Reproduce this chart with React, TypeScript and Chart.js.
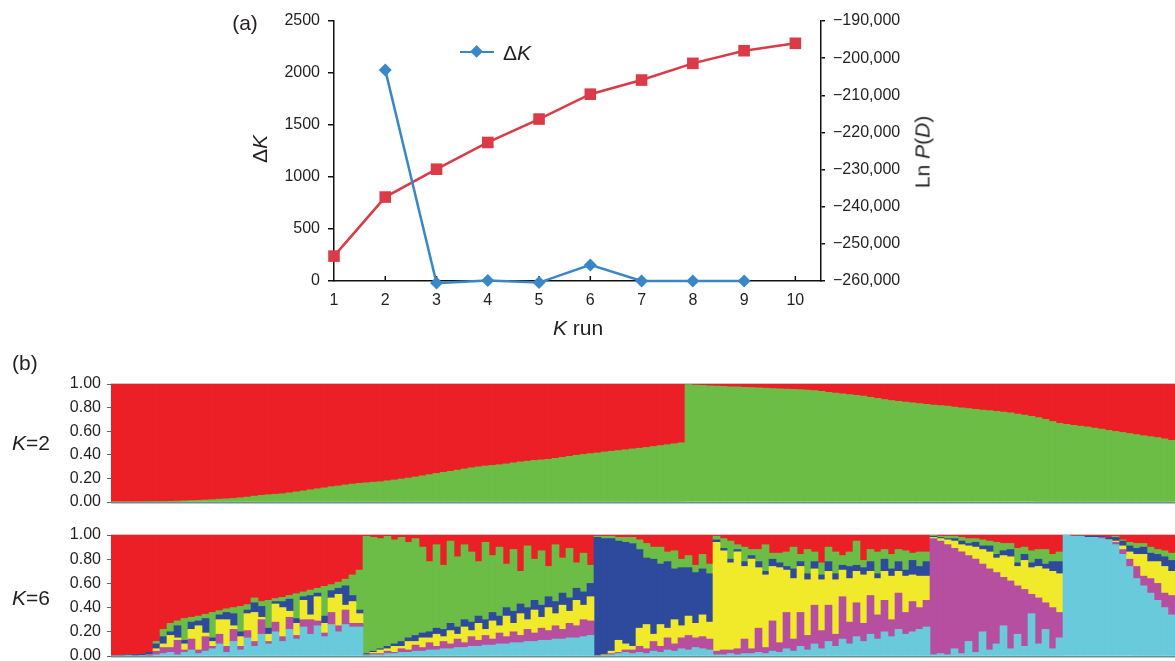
import React, { useEffect, useRef } from 'react';
import { Chart, registerables } from 'chart.js';

Chart.register(...registerables);

// ---------- Panel (a) data ----------
const kRun = [1, 2, 3, 4, 5, 6, 7, 8, 9, 10];
const deltaK = [null, 2030, -20, 5, -15, 155, 0, 0, 0, null];
const lnPD = [-253300, -237400, -229900, -222700, -216400, -209700, -205900, -201400, -198000, -196000];

// ---------- Panel (b) K=2 data (green share per individual; red is the rest) ----------
const k2Green = [
  0, 0, 0, 0, 0, 0.002, 0.004, 0.005, 0.006, 0.008, 0.01, 0.012, 0.014, 0.017, 0.02, 0.024, 0.027, 0.03,
  0.036, 0.042, 0.05, 0.056, 0.062, 0.066, 0.07, 0.078, 0.086, 0.094, 0.103, 0.112, 0.12, 0.13, 0.136,
  0.145, 0.152, 0.158, 0.163, 0.168, 0.172, 0.18, 0.187, 0.195, 0.203, 0.212, 0.222, 0.232, 0.242, 0.251,
  0.26, 0.27, 0.28, 0.29, 0.298, 0.305, 0.31, 0.316, 0.323, 0.332, 0.34, 0.346, 0.352, 0.357, 0.362, 0.37,
  0.378, 0.387, 0.396, 0.403, 0.41, 0.416, 0.424, 0.43, 0.436, 0.443, 0.45, 0.456, 0.462, 0.47, 0.478,
  0.486, 0.494, 0.502,
  0.995, 0.99, 0.988, 0.985, 0.982, 0.98, 0.977, 0.975, 0.972, 0.97, 0.967, 0.965, 0.962, 0.96, 0.957,
  0.955, 0.952, 0.948, 0.944, 0.938, 0.93, 0.924, 0.917, 0.91, 0.904, 0.897, 0.888, 0.878, 0.868, 0.86,
  0.853, 0.846, 0.84, 0.834, 0.828, 0.822, 0.817, 0.812, 0.805, 0.798, 0.792, 0.786, 0.78, 0.774, 0.768,
  0.762, 0.755, 0.746, 0.736, 0.726, 0.715, 0.7, 0.682, 0.666, 0.658, 0.65, 0.643, 0.636, 0.627, 0.618,
  0.607, 0.598, 0.589, 0.58, 0.571, 0.562, 0.554, 0.546, 0.535, 0.522,
];

// ---------- Panel (b) K=6 data (red is the rest of each individual) ----------
const k6Cyan = [
  0, 0, 0.002, 0, 0.003, 0, 0.01, 0.02, 0.03, 0.01, 0.03, 0.05, 0.02, 0.04, 0.06, 0.1, 0.03, 0.12, 0.05, 0.15,
  0.08, 0.18, 0.1, 0.2, 0.12, 0.22, 0.14, 0.24, 0.18, 0.25, 0.16, 0.26, 0.2, 0.26, 0.24, 0.24,
  0.005, 0.01, 0.01, 0.02, 0.02, 0.03, 0.03, 0.04, 0.04, 0.05, 0.05, 0.06, 0.06, 0.07, 0.07, 0.08, 0.08,
  0.09, 0.09, 0.1, 0.1, 0.11, 0.11, 0.12, 0.12, 0.13, 0.13, 0.14, 0.14, 0.15, 0.15, 0.16, 0.17,
  0, 0, 0.01, 0.02, 0.03, 0.02, 0.03, 0.02, 0.04, 0.03, 0.05, 0.04, 0.06, 0.05, 0.07, 0.06, 0.05,
  0.01, 0.01, 0.02, 0.01, 0.02, 0.02, 0.03, 0.02, 0.04, 0.03, 0.06, 0.04, 0.08, 0.05, 0.1, 0.06, 0.12, 0.08,
  0.14, 0.1, 0.16, 0.12, 0.18, 0.14, 0.2, 0.16, 0.22, 0.18, 0.2, 0.22, 0.24,
  0.01, 0.02, 0.01, 0.06, 0.02, 0.12, 0.03, 0.2, 0.05, 0.1, 0.25, 0.06, 0.18, 0.08, 0.35, 0.1, 0.22, 0.06, 0.15,
  1, 0.99, 0.99, 0.98, 0.98, 0.97, 0.96, 0.92, 0.84, 0.74, 0.64, 0.58, 0.52, 0.46, 0.4, 0.34,
];
const k6Magenta = [
  0, 0.002, 0, 0.002, 0, 0.01, 0.03, 0.05, 0.04, 0.12, 0.02, 0.09, 0.03, 0.12, 0.02, 0.08, 0.05, 0.1, 0.03,
  0.06, 0.04, 0.12, 0.02, 0.08, 0.04, 0.1, 0.03, 0.06, 0.12, 0.04, 0.03, 0.1, 0.05, 0.12, 0.03, 0.03,
  0.005, 0.01, 0.01, 0.02, 0.01, 0.03, 0.02, 0.05, 0.03, 0.06, 0.03, 0.06, 0.04, 0.07, 0.04, 0.08, 0.05,
  0.08, 0.05, 0.09, 0.06, 0.09, 0.06, 0.1, 0.07, 0.1, 0.08, 0.11, 0.08, 0.12, 0.1, 0.14, 0.12,
  0, 0, 0.01, 0.01, 0.02, 0.03, 0.05, 0.04, 0.08, 0.05, 0.1, 0.06, 0.09, 0.12, 0.08, 0.1, 0.09,
  0.03, 0.04, 0.03, 0.05, 0.12, 0.04, 0.2, 0.05, 0.25, 0.08, 0.3, 0.1, 0.28, 0.12, 0.32, 0.15, 0.3, 0.1,
  0.35, 0.18, 0.28, 0.15, 0.32, 0.2, 0.26, 0.14, 0.3, 0.18, 0.25, 0.18, 0.22,
  0.96, 0.93, 0.91, 0.83, 0.84, 0.71, 0.77, 0.56, 0.67, 0.59, 0.4, 0.56, 0.4, 0.47, 0.16, 0.38, 0.22, 0.34, 0.21,
  0, 0, 0, 0, 0, 0.01, 0, 0.02, 0.04, 0.06, 0.1, 0.08, 0.12, 0.14, 0.12, 0.16,
];
const k6Yellow = [
  0, 0, 0, 0, 0, 0, 0.02, 0.03, 0.1, 0.02, 0.05, 0.08, 0.2, 0.03, 0.04, 0.12, 0.22, 0.03, 0.08, 0.14,
  0.24, 0.02, 0.06, 0.15, 0.24, 0.05, 0.1, 0.16, 0.04, 0.2, 0.08, 0.12, 0.26, 0.04, 0.18, 0.08,
  0, 0.01, 0.03, 0.02, 0.05, 0.02, 0.07, 0.03, 0.08, 0.04, 0.1, 0.04, 0.11, 0.04, 0.13, 0.05, 0.14, 0.05,
  0.15, 0.06, 0.17, 0.07, 0.18, 0.08, 0.19, 0.09, 0.19, 0.1, 0.2, 0.1, 0.21, 0.12, 0.2,
  0, 0.01, 0.02, 0.1, 0.05, 0.03, 0.15, 0.2, 0.06, 0.18, 0.08, 0.2, 0.1, 0.16, 0.12, 0.18, 0.14,
  0.9, 0.82, 0.72, 0.8, 0.6, 0.74, 0.5, 0.6, 0.45, 0.62, 0.35, 0.5, 0.38, 0.46, 0.3, 0.42, 0.28, 0.45,
  0.22, 0.36, 0.26, 0.4, 0.2, 0.3, 0.24, 0.36, 0.18, 0.3, 0.22, 0.26, 0.2,
  0.01, 0.02, 0.04, 0.06, 0.06, 0.08, 0.1, 0.12, 0.14, 0.12, 0.18, 0.2, 0.16, 0.24, 0.22, 0.26, 0.28, 0.3, 0.32,
  0, 0, 0, 0, 0, 0, 0, 0.01, 0.03, 0.06, 0.1, 0.18, 0.14, 0.18, 0.22, 0.2,
];
const k6Blue = [
  0.005, 0.006, 0.008, 0.01, 0.012, 0.02, 0.04, 0.06, 0.03, 0.1, 0.03, 0.06, 0.04, 0.12, 0.03, 0.04, 0.06,
  0.1, 0.04, 0.03, 0.08, 0.09, 0.05, 0.02, 0.05, 0.1, 0.04, 0.03, 0.16, 0.03, 0.06, 0.06, 0.05, 0.16, 0.05, 0.03,
  0.01, 0.01, 0.01, 0.02, 0.02, 0.04, 0.03, 0.05, 0.04, 0.05, 0.05, 0.06, 0.06, 0.06, 0.06, 0.07, 0.06,
  0.08, 0.07, 0.08, 0.07, 0.1, 0.08, 0.1, 0.08, 0.1, 0.09, 0.1, 0.1, 0.11, 0.1, 0.11, 0.11,
  0.98, 0.96, 0.93, 0.82, 0.84, 0.85, 0.65, 0.55, 0.62, 0.5, 0.55, 0.42, 0.48, 0.4, 0.42, 0.38, 0.4,
  0.02, 0.02, 0.03, 0.02, 0.04, 0.03, 0.05, 0.03, 0.06, 0.04, 0.03, 0.08, 0.04, 0.05, 0.06, 0.04, 0.08, 0.05,
  0.04, 0.1, 0.05, 0.06, 0.08, 0.04, 0.1, 0.06, 0.08, 0.05, 0.12, 0.08, 0.12,
  0.01, 0.01, 0.01, 0.02, 0.03, 0.02, 0.04, 0.03, 0.05, 0.03, 0.04, 0.06, 0.03, 0.05, 0.04, 0.06, 0.04, 0.08, 0.1,
  0, 0, 0.005, 0.01, 0.01, 0.01, 0.02, 0.03, 0.04, 0.05, 0.05, 0.06, 0.07, 0.06, 0.08, 0.09,
];
const k6Green = [
  0, 0, 0, 0, 0, 0, 0.02, 0.06, 0.07, 0.04, 0.18, 0.04, 0.04, 0.035, 0.21, 0.035, 0.03, 0.05, 0.21, 0.045,
  0.04, 0.04, 0.23, 0.025, 0.035, 0.03, 0.205, 0.04, 0.045, 0.04, 0.245, 0.05, 0.05, 0.055, 0.17, 0.33,
  0.97, 0.94, 0.91, 0.91, 0.86, 0.86, 0.79, 0.8, 0.71, 0.58, 0.69, 0.53, 0.68, 0.58, 0.62, 0.58, 0.45,
  0.64, 0.47, 0.57, 0.36, 0.51, 0.27, 0.51, 0.34, 0.45, 0.25, 0.47, 0.29, 0.41, 0.21, 0.32, 0.15,
  0.01, 0.02, 0.02, 0.03, 0.04, 0.05, 0.08, 0.12, 0.1, 0.14, 0.08, 0.15, 0.07, 0.1, 0.06, 0.12, 0.08,
  0.03, 0.08, 0.15, 0.04, 0.12, 0.05, 0.1, 0.22, 0.05, 0.08, 0.12, 0.18, 0.06, 0.2, 0.08, 0.1, 0.12, 0.18,
  0.08, 0.12, 0.2, 0.06, 0.1, 0.18, 0.08, 0.12, 0.1, 0.16, 0.06, 0.12, 0.08,
  0.01, 0.01, 0.02, 0.02, 0.03, 0.04, 0.03, 0.05, 0.04, 0.1, 0.06, 0.05, 0.12, 0.06, 0.1, 0.08, 0.12, 0.06, 0.08,
  0, 0, 0, 0, 0, 0, 0, 0.01, 0.01, 0.03, 0.04, 0.03, 0.05, 0.04, 0.05, 0.06,
];

const propTicks = [0, 0.2, 0.4, 0.6, 0.8, 1];

// ---------- styles ----------
const FONT = '"Liberation Sans", Arial, Helvetica, sans-serif';
const TXT = '#231f20';
const BLUE_L = '#3a87c8';
const RED_L = '#db3a47';
const Q_RED = '#ec1e26';
const Q_GREEN = '#6bbd45';
const Q_BLUE = '#2e4a9c';
const Q_YELLOW = '#f1ea2b';
const Q_MAGENTA = '#b64f9f';
const Q_CYAN = '#68cadb';

const fmtLn = (v: number) => {
  const s = Math.abs(v).toLocaleString('en-US');
  return (v < 0 ? '\u2212' : '') + s;
};

const innerTicks = {
  id: 'innerTicks',
  beforeDatasetsDraw(chart: any) {
    const { ctx, chartArea, scales } = chart;
    ctx.save();
    ctx.strokeStyle = '#111';
    ctx.lineWidth = 1.5;
    kRun.forEach((k) => {
      if (k === 1) return;
      const x = scales.x.getPixelForValue(k);
      ctx.beginPath();
      ctx.moveTo(x, chartArea.bottom);
      ctx.lineTo(x, chartArea.bottom - 5);
      ctx.stroke();
    });
    ctx.restore();
  },
};

const baseLine = {
  id: 'baseLine',
  afterDraw(chart: any) {
    const { ctx, chartArea } = chart;
    ctx.save();
    ctx.strokeStyle = '#6f8f8f';
    ctx.lineWidth = 1.5;
    ctx.beginPath();
    ctx.moveTo(chartArea.left, chartArea.bottom + 0.75);
    ctx.lineTo(chartArea.right, chartArea.bottom + 0.75);
    ctx.stroke();
    ctx.strokeStyle = 'rgba(200,180,180,0.8)';
    ctx.lineWidth = 1;
    ctx.beginPath();
    ctx.moveTo(chartArea.left, chartArea.top - 0.5);
    ctx.lineTo(chartArea.right, chartArea.top - 0.5);
    ctx.stroke();
    ctx.restore();
  },
};

function barDataset(label: string, data: number[], color: string) {
  return {
    label,
    data,
    backgroundColor: color,
    borderWidth: 0,
    barPercentage: 1,
    categoryPercentage: 1,
  };
}

function remainder(parts: number[][]) {
  return parts[0].map((_, i) => {
    const s = parts.reduce((acc, p) => acc + p[i], 0);
    return Math.max(0, Math.round((1 - s) * 1000) / 1000);
  });
}

function structureChart(canvas: HTMLCanvasElement, datasets: any[], n: number, padTop: number, padBottom: number) {
  return new Chart(canvas, {
    type: 'bar',
    data: { labels: Array.from({ length: n }, (_, i) => String(i + 1)), datasets },
    options: {
      animation: false,
      responsive: false,
      layout: { padding: { top: padTop, bottom: padBottom, left: 0, right: 0 } },
      plugins: { legend: { display: false }, tooltip: { enabled: false } },
      scales: {
        x: { stacked: true, display: false },
        y: {
          stacked: true,
          min: 0,
          max: 1,
          afterBuildTicks: (s: any) => {
            s.ticks = propTicks.map((v) => ({ value: v }));
          },
          ticks: {
            callback: (v: any) => Number(v).toFixed(2),
            font: { family: FONT, size: 16 },
            color: TXT,
            padding: 6,
          },
          grid: { drawOnChartArea: false, tickLength: 4, color: '#4f6f6f', lineWidth: 1 },
          border: { display: true, color: '#9ab0b0', width: 1 },
          afterFit: (s: any) => {
            s.width = 111;
            s.paddingTop = 0;
            s.paddingBottom = 0;
          },
        },
      },
    } as any,
    plugins: [baseLine],
  });
}

export default function App() {
  const refA = useRef<HTMLCanvasElement>(null);
  const refB = useRef<HTMLCanvasElement>(null);
  const refC = useRef<HTMLCanvasElement>(null);

  useEffect(() => {
    const chartA = new Chart(refA.current as HTMLCanvasElement, {
      type: 'line',
      data: {
        datasets: [
          {
            label: '\u0394K',
            data: kRun.map((k, i) => ({ x: k, y: deltaK[i] })),
            yAxisID: 'y',
            borderColor: BLUE_L,
            backgroundColor: BLUE_L,
            borderWidth: 2.5,
            pointStyle: 'rectRot',
            pointRadius: 6.5,
            pointBorderWidth: 0,
            clip: false,
          },
          {
            label: 'Ln P(D)',
            data: kRun.map((k, i) => ({ x: k, y: lnPD[i] })),
            yAxisID: 'y2',
            borderColor: RED_L,
            backgroundColor: RED_L,
            borderWidth: 2.5,
            pointStyle: 'rect',
            pointRadius: 8.2,
            pointBorderWidth: 0,
            clip: false,
          },
        ],
      },
      options: {
        animation: false,
        responsive: false,
        layout: { padding: { top: 21, left: 0, right: 0, bottom: 0 } },
        plugins: { legend: { display: false }, tooltip: { enabled: false } },
        scales: {
          x: {
            type: 'linear',
            min: 1,
            max: 10.5,
            afterBuildTicks: (s: any) => {
              s.ticks = kRun.map((v) => ({ value: v }));
            },
            grid: { display: false, drawTicks: false },
            border: { display: true, color: '#111', width: 1.5 },
            ticks: { font: { family: FONT, size: 16 }, color: TXT, padding: 10, maxRotation: 0 },
            afterFit: (s: any) => {
              s.height = 64;
            },
          },
          y: {
            position: 'left',
            min: 0,
            max: 2500,
            ticks: {
              stepSize: 500,
              callback: (v: any) => String(v),
              font: { family: FONT, size: 16 },
              color: TXT,
              padding: 8,
            },
            grid: { drawOnChartArea: false, tickLength: 6, color: '#111', lineWidth: 1.5 },
            border: { display: true, color: '#111', width: 1.5 },
            afterFit: (s: any) => {
              s.width = 334;
            },
          },
          y2: {
            position: 'right',
            min: -260000,
            max: -190000,
            ticks: {
              stepSize: 10000,
              callback: (v: any) => fmtLn(Number(v)),
              font: { family: FONT, size: 16 },
              color: TXT,
              padding: 8,
            },
            grid: { drawOnChartArea: false, tickLength: 4, color: '#111', lineWidth: 1.5 },
            border: { display: true, color: '#111', width: 1.5 },
            afterFit: (s: any) => {
              s.width = 354;
            },
          },
        },
      } as any,
      plugins: [innerTicks],
    });

    const k2Red = k2Green.map((g) => Math.round((1 - g) * 1000) / 1000);
    const chartB = structureChart(
      refB.current as HTMLCanvasElement,
      [barDataset('Cluster 2', k2Green, Q_GREEN), barDataset('Cluster 1', k2Red, Q_RED)],
      k2Green.length,
      14,
      8
    );

    const k6Red = remainder([k6Cyan, k6Magenta, k6Yellow, k6Blue, k6Green]);
    const chartC = structureChart(
      refC.current as HTMLCanvasElement,
      [
        barDataset('Cyan', k6Cyan, Q_CYAN),
        barDataset('Magenta', k6Magenta, Q_MAGENTA),
        barDataset('Yellow', k6Yellow, Q_YELLOW),
        barDataset('Blue', k6Blue, Q_BLUE),
        barDataset('Green', k6Green, Q_GREEN),
        barDataset('Red', k6Red, Q_RED),
      ],
      k6Cyan.length,
      15,
      5
    );

    return () => {
      chartA.destroy();
      chartB.destroy();
      chartC.destroy();
    };
  }, []);

  const txt: React.CSSProperties = {
    position: 'absolute',
    fontFamily: FONT,
    color: TXT,
    whiteSpace: 'nowrap',
    lineHeight: 1,
  };
  const center = (cx: number, cy: number, size: number, rotate = false): React.CSSProperties => ({
    ...txt,
    left: cx,
    top: cy,
    fontSize: size,
    transform: `translate(-50%, -50%)${rotate ? ' rotate(-90deg)' : ''}`,
  });
  const leftMid = (lx: number, cy: number, size: number): React.CSSProperties => ({
    ...txt,
    left: lx,
    top: cy,
    fontSize: size,
    transform: 'translateY(-50%)',
  });

  return (
    <div style={{ position: 'absolute', left: 0, top: 0, width: 1175, height: 661, background: '#fff', overflow: 'hidden' }}>
      <canvas ref={refA} width={1175} height={345} style={{ position: 'absolute', left: 0, top: 0, width: 1175, height: 345 }} />
      <canvas ref={refB} width={1175} height={140} style={{ position: 'absolute', left: 0, top: 370, width: 1175, height: 140 }} />
      <canvas ref={refC} width={1175} height={141} style={{ position: 'absolute', left: 0, top: 520, width: 1175, height: 141 }} />

      <div style={center(245, 22, 21)}>(a)</div>
      <div style={center(259, 149, 21, true)}>
        {'\u0394'}
        <i>K</i>
      </div>
      <div style={center(922, 152, 21, true)}>
        Ln <i>P</i>(<i>D</i>)
      </div>
      <div style={center(578, 327, 21)}>
        <i>K</i> run
      </div>

      {/* legend */}
      <div style={{ position: 'absolute', left: 460, top: 50.5, width: 34, height: 2.5, background: BLUE_L }} />
      <div
        style={{
          position: 'absolute',
          left: 477 - 4.6,
          top: 51.8 - 4.6,
          width: 9.2,
          height: 9.2,
          background: BLUE_L,
          transform: 'rotate(45deg)',
        }}
      />
      <div style={leftMid(503, 52, 21)}>
        {'\u0394'}
        <i>K</i>
      </div>

      <div style={leftMid(12, 362, 21)}>(b)</div>
      <div style={leftMid(12, 442, 21)}>
        <i>K</i>=2
      </div>
      <div style={leftMid(12, 597, 21)}>
        <i>K</i>=6
      </div>
    </div>
  );
}
